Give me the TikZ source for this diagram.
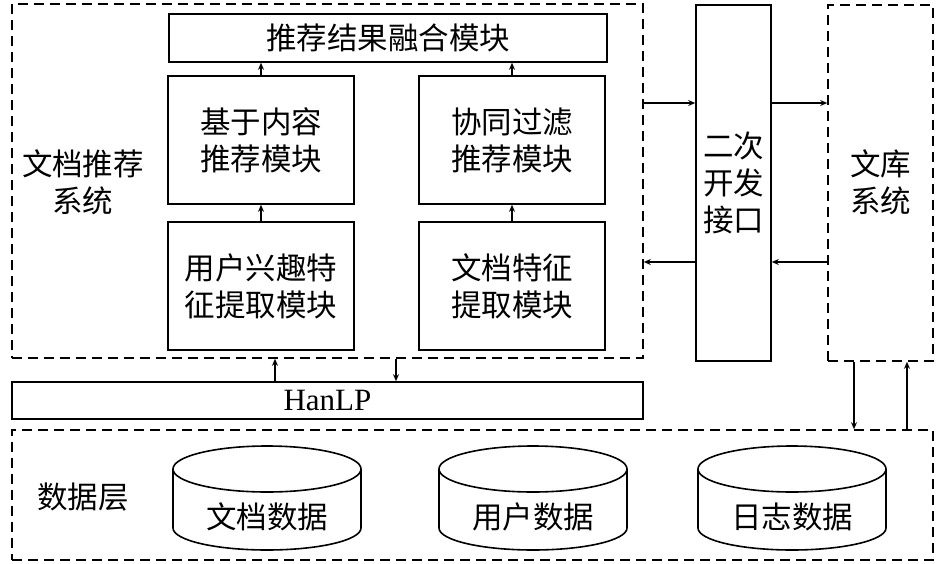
\documentclass[tikz,border=0pt]{standalone}
\usepackage{fontspec}
\setmainfont{Liberation Serif}
\newfontfamily\cjk{Noto Sans CJK SC}
\usetikzlibrary{arrows.meta}
\begin{document}
\begin{tikzpicture}[x=1pt,y=-1pt,
  box/.style={draw, line width=1.6pt, inner sep=0pt, align=center, font={\cjk\fontsize{30.5}{37}\selectfont}},
  dbox/.style={draw, line width=1.6pt, dash pattern=on 10pt off 6pt, inner sep=0pt},
  lbl/.style={align=center, font={\cjk\fontsize{30.5}{37}\selectfont}},
  arr/.style={line width=1.4pt, -{Stealth[length=7pt,width=6pt]}},
  cyl/.style={line width=1.6pt}
]
\useasboundingbox (0,0) rectangle (946,563);
% dashed containers
\node[dbox, minimum width=631pt, minimum height=354pt] (rs) at (327.5,181) {};
\node[dbox, minimum width=105pt, minimum height=356pt] (lib) at (880.5,183) {};
\node[dbox, minimum width=921pt, minimum height=130pt] (data) at (472.5,495) {};
% labels of containers
\node[lbl] (rslbl) at (83,182) {文档推荐\\系统};
\node[lbl] (liblbl) at (880.5,182) {文库\\系统};
\node[lbl] (datalbl) at (83,497) {数据层};
% solid boxes
\node[box, minimum width=438pt, minimum height=48pt] (fusion) at (388,38) {推荐结果融合模块};
\node[box, minimum width=186pt, minimum height=128pt] (cb) at (261,140) {基于内容\\推荐模块};
\node[box, minimum width=186pt, minimum height=128pt] (cf) at (512,140) {协同过滤\\推荐模块};
\node[box, minimum width=186pt, minimum height=128pt] (uf) at (261,286) {用户兴趣特\\征提取模块};
\node[box, minimum width=186pt, minimum height=128pt] (df) at (512,286) {文档特征\\提取模块};
\node[box, minimum width=631pt, minimum height=37pt, font={\fontsize{31}{36}\selectfont}] (hanlp) at (327.5,400.5) {HanLP};
\node[box, minimum width=75pt, minimum height=356pt] (api) at (733.5,183) {二次\\开发\\接口};
% cylinders
\foreach \cx/\nm/\txt in {267/d1/文档数据, 533/d2/用户数据, 792/d3/日志数据}{
  \draw[cyl] (\cx-94,469) arc[start angle=180,end angle=-180,x radius=94,y radius=23];
  \draw[cyl] (\cx-94,469) -- (\cx-94,528) arc[start angle=180,end angle=0,x radius=94,y radius=22] -- (\cx+94,469);
  \node[lbl] (\nm) at (\cx,517) {\txt};
}
% arrows inside recommendation system
\draw[arr] (cb.north) -- (cb.north |- fusion.south);
\draw[arr] (cf.north) -- (cf.north |- fusion.south);
\draw[arr] (uf.north) -- (cb.south);
\draw[arr] (df.north) -- (cf.south);
% HanLP arrows
\draw[arr] ([xshift=-52.5pt]hanlp.north) -- ([xshift=-52.5pt]rs.south);
\draw[arr] ([xshift=68.5pt]rs.south) -- ([xshift=68.5pt]hanlp.north);
% interface arrows
\draw[arr] ([yshift=80pt]api.west -| rs.east) -- ([yshift=80pt]api.west);
\draw[arr] ([yshift=80pt]api.east) -- ([yshift=80pt]api.east -| lib.west);
\draw[arr] ([yshift=-79pt]api.west) -- ([yshift=-79pt]api.west -| rs.east);
\draw[arr] ([yshift=-79pt]lib.west) -- ([yshift=-79pt]lib.west -| api.east);
% library <-> data
\draw[arr] ([xshift=-26.5pt]lib.south) -- ([xshift=-26.5pt]lib.south |- data.north);
\draw[arr] ([xshift=26.5pt]lib.south |- data.north) -- ([xshift=26.5pt]lib.south);
\end{tikzpicture}
\end{document}
